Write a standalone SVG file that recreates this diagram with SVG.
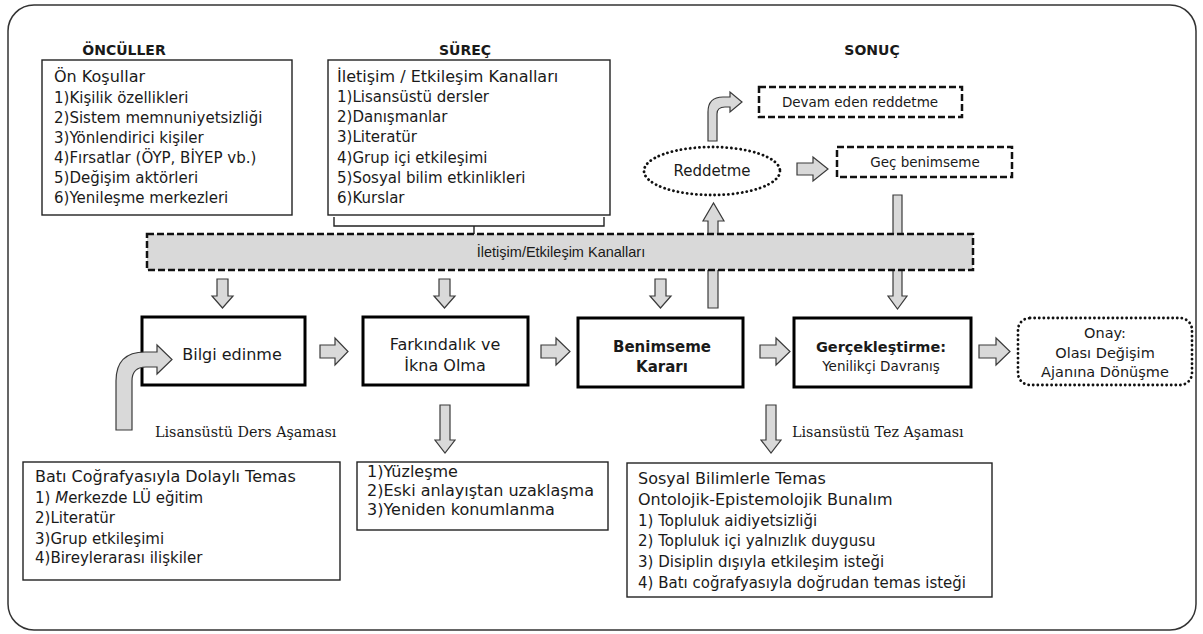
<svg xmlns="http://www.w3.org/2000/svg" width="1203" height="634" viewBox="0 0 1203 634">
<style>
text{font-family:"DejaVu Sans",sans-serif;fill:#1a1a1a}
.ti{font-size:14px;font-weight:bold}
.h{font-size:16px}
.i{font-size:15px}
.sm{font-size:13.5px}
.ser{font-family:"DejaVu Serif",serif;font-size:14.3px}
.bar{font-family:"Liberation Sans",sans-serif;font-size:14.5px}
.c{text-anchor:middle}
.b{font-weight:bold}
.box{fill:#fff;stroke:#222;stroke-width:1.4}
.main{fill:#fff;stroke:#000;stroke-width:3}
.dash{fill:#fff;stroke:#111;stroke-width:2.5;stroke-dasharray:7 3}
.dot{fill:#fff;stroke:#111;stroke-width:2.8;stroke-dasharray:0.1 4.5;stroke-linecap:round}
.arr{fill:#d9d9d9;stroke:#3a3a3a;stroke-width:1.2}
.ln{fill:none;stroke:#222;stroke-width:1.4}
</style>
<rect x="8" y="5" width="1188" height="625" rx="26" fill="#fff" stroke="#333" stroke-width="1.5"/>
<text class="ti c" x="124" y="55">ÖNCÜLLER</text>
<text class="ti c" x="465" y="55">SÜREÇ</text>
<text class="ti c" x="872" y="55">SONUÇ</text>

<g id="onkosullar">
<rect class="box" x="42" y="60" width="250" height="155"/>
<text class="h" x="54" y="82">Ön Koşullar</text>
<text class="i" x="54" y="103">1)Kişilik özellikleri</text>
<text class="i" x="54" y="123">2)Sistem memnuniyetsizliği</text>
<text class="i" x="54" y="143">3)Yönlendirici kişiler</text>
<text class="i" x="54" y="163">4)Fırsatlar (ÖYP, BİYEP vb.)</text>
<text class="i" x="54" y="183">5)Değişim  aktörleri</text>
<text class="i" x="54" y="203">6)Yenileşme merkezleri</text>
</g>

<g id="surec">
<rect class="box" x="328" y="60" width="282" height="155"/>
<text class="h" x="337" y="82">İletişim / Etkileşim Kanalları</text>
<text class="i" x="337" y="102">1)Lisansüstü dersler</text>
<text class="i" x="337" y="122">2)Danışmanlar</text>
<text class="i" x="337" y="142">3)Literatür</text>
<text class="i" x="337" y="163">4)Grup içi etkileşimi</text>
<text class="i" x="337" y="183">5)Sosyal bilim  etkinlikleri</text>
<text class="i" x="337" y="203">6)Kurslar</text>
</g>

<g id="connectors">
<path class="ln" d="M334,217 V226 H604 V217 M474,226 V234"/>
<path class="arr" d="M708,308 V221 H703 L713.5,203 L724,221 H718 V308 Z"/>
<path class="arr" d="M893,195 H902 V296 H907 L897.5,309 L888,296 H893 Z"/>
<path class="arr" d="M708,141 V112 Q708,97 723,97 H730 V92 L742,102 L730,112 V107 H725 Q717,107 717,114 V141 Z"/>
<path class="arr" d="M797,163 H813 V157 L828,169 L813,181 V175 H797 Z"/>
<path class="arr" d="M217,279 H228 V296 H233 L222.5,308 L212,296 H217 Z"/>
<path class="arr" d="M439,279 H450 V296 H455 L444.5,308 L434,296 H439 Z"/>
<path class="arr" d="M655,279 H666 V296 H671 L660.5,308 L650,296 H655 Z"/>
<path class="arr" d="M320,345 H335 V338 L348,351.5 L335,365 V358 H320 Z"/>
<path class="arr" d="M541,345 H556 V338 L570,351.5 L556,365 V358 H541 Z"/>
<path class="arr" d="M760,345 H776 V338 L790,351.5 L776,365 V358 H760 Z"/>
<path class="arr" d="M979,345 H996 V338 L1010,351.5 L996,365 V358 H979 Z"/>
<path class="arr" d="M440,405 H450 V440 H455 L445,453 L435,440 H440 Z"/>
<path class="arr" d="M766,405 H776 V440 H781 L771,453 L761,440 H766 Z"/>
</g>

<g id="bar">
<rect x="147" y="234" width="826" height="36" fill="#d9d9d9" stroke="#111" stroke-width="2.5" stroke-dasharray="7 3"/>
<text class="bar c" x="561" y="257">İletişim/Etkileşim Kanalları</text>
</g>

<g id="reddetme">
<ellipse class="dot" cx="712" cy="171" rx="68" ry="24"/>
<text class="i c" x="712" y="176">Reddetme</text>
</g>
<g id="devam">
<rect class="dash" x="759" y="87" width="203" height="30"/>
<text class="sm c" x="860" y="107">Devam eden reddetme</text>
</g>
<g id="gec">
<rect class="dash" x="837" y="147" width="175" height="30"/>
<text class="sm c" x="925" y="167">Geç benimseme</text>
</g>

<g id="bilgi">
<rect class="main" x="142" y="317" width="163" height="68"/>
<text class="h c" x="232" y="360">Bilgi edinme</text>
</g>
<g id="farkindalik">
<rect class="main" x="363" y="317" width="165" height="68"/>
<text class="h c" x="445" y="350">Farkındalık ve</text>
<text class="h c" x="445" y="371">İkna Olma</text>
</g>
<g id="benimseme">
<rect class="main" x="578" y="318" width="165" height="69"/>
<text class="i b c" x="662" y="352">Benimseme</text>
<text class="i b c" x="662" y="372">Kararı</text>
</g>
<g id="gerceklestirme">
<rect class="main" x="794" y="318" width="177" height="69"/>
<text class="b c" x="881" y="352" font-size="14.5">Gerçekleştirme:</text>
<text class="sm c" x="881" y="371">Yenilikçi Davranış</text>
</g>
<g id="onay">
<rect class="dot" x="1018" y="318" width="174" height="67" rx="12"/>
<text class="c" x="1105" y="338" font-size="14.5">Onay:</text>
<text class="c" x="1105" y="358" font-size="14.5">Olası Değişim</text>
<text class="c" x="1105" y="377" font-size="14.5">Ajanına Dönüşme</text>
</g>

<path class="arr" d="M116,430 V381 Q116,352 145,352 H157 V345 L172,359.5 L157,374 V367 H146 Q132,367 132,381 V430 Z"/>

<text class="ser" x="155" y="437">Lisansüstü Ders Aşaması</text>
<text class="ser" x="792" y="437">Lisansüstü Tez Aşaması</text>

<g id="bati">
<rect class="box" x="23" y="462" width="317" height="118"/>
<text class="h" x="35" y="482">Batı Coğrafyasıyla Dolaylı Temas</text>
<text class="i" x="35" y="503">1) <tspan font-style="italic">M</tspan>erkezde LÜ eğitim</text>
<text class="i" x="35" y="523">2)Literatür</text>
<text class="i" x="35" y="544">3)Grup etkileşimi</text>
<text class="i" x="35" y="563">4)Bireylerarası  ilişkiler</text>
</g>
<g id="yuzlesme">
<rect class="box" x="357" y="462" width="251" height="68"/>
<text class="h" x="367" y="477">1)Yüzleşme</text>
<text class="h" x="367" y="496">2)Eski anlayıştan uzaklaşma</text>
<text class="h" x="367" y="515">3)Yeniden konumlanma</text>
</g>
<g id="sosyal">
<rect class="box" x="627" y="463" width="365" height="134"/>
<text class="h" x="638" y="484">Sosyal Bilimlerle Temas</text>
<text class="h" x="638" y="505">Ontolojik-Epistemolojik Bunalım</text>
<text class="i" x="638" y="526">1) Topluluk aidiyetsizliği</text>
<text class="i" x="638" y="546">2) Topluluk içi yalnızlık duygusu</text>
<text class="i" x="638" y="567">3) Disiplin dışıyla etkileşim isteği</text>
<text class="i" x="638" y="588">4) Batı coğrafyasıyla doğrudan temas isteği</text>
</g>
</svg>
